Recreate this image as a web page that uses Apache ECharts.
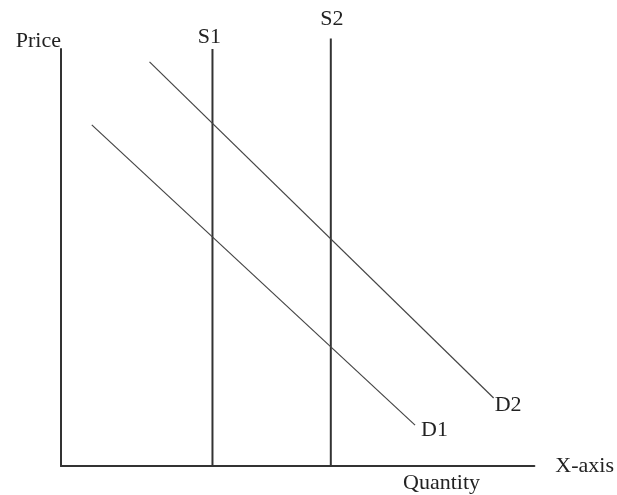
<!DOCTYPE html>
<html>
<head>
<meta charset="utf-8">
<script src="https://cdn.jsdelivr.net/npm/echarts@6/dist/echarts.min.js"></script>
<style>
  html, body { margin: 0; padding: 0; background: #fff; }
</style>
</head>
<body>
<div id="main" style="width: 617px; height: 495px"></div>
<script>
// supply (vertical) and demand lines, [quantity, price]
const s1 = [[32, 0], [32, 100]];
const s2 = [[57, 0], [57, 102.5]];
const d1 = [[6.5, 81.8], [74.8, 9.8]];
const d2 = [[18.7, 96.9], [91.4, 16.3]];
const names = ["S1", "S2", "D1", "D2"];

const font = "Liberation Serif";
const fs = 22;
const ink = "#222";

function tagLast(points, name, pos, align, vAlign) {
  return points.map((p, i) => {
    if (i !== points.length - 1) return p;
    return {
      value: p,
      label: {
        show: true, formatter: name, position: pos, align: align, verticalAlign: vAlign,
        color: ink, fontFamily: font, fontSize: fs
      }
    };
  });
}

const myChart = echarts.init(document.getElementById("main"));
const option = {
  animation: false,
  grid: { left: 61, right: 80, top: 49, bottom: 29 },
  xAxis: {
    type: "value", min: 0, max: 100,
    name: "X-axis", nameLocation: "end", nameGap: 21,
    nameTextStyle: { color: ink, fontFamily: font, fontSize: fs },
    axisLine: { lineStyle: { color: "#333", width: 2 } },
    axisTick: { show: false }, axisLabel: { show: false }, splitLine: { show: false }
  },
  yAxis: {
    type: "value", min: 0, max: 100,
    name: "Price", nameLocation: "end", nameGap: -3,
    nameTextStyle: { color: ink, fontFamily: font, fontSize: fs, align: "right", verticalAlign: "bottom" },
    axisLine: { lineStyle: { color: "#333", width: 2 } },
    axisTick: { show: false }, axisLabel: { show: false }, splitLine: { show: false }
  },
  graphic: [{
    type: "text", left: 403, top: 472,
    style: { text: "Quantity", fill: ink, font: fs + "px " + font }
  }],
  series: [
    {
      name: names[0], type: "line", symbol: "circle", symbolSize: 0, showSymbol: true,
      lineStyle: { color: "#333", width: 2 }, itemStyle: { color: "#333" },
      data: tagLast(s1, names[0], [-3, -1], "center", "bottom")
    },
    {
      name: names[1], type: "line", symbol: "circle", symbolSize: 0, showSymbol: true, clip: false,
      lineStyle: { color: "#333", width: 2 }, itemStyle: { color: "#333" },
      data: tagLast(s2, names[1], [1, -8], "center", "bottom")
    },
    {
      name: names[2], type: "line", symbol: "circle", symbolSize: 0, showSymbol: true,
      lineStyle: { color: "#444", width: 1.2 }, itemStyle: { color: "#444" },
      data: tagLast(d1, names[2], [6, -6], "left", "top")
    },
    {
      name: names[3], type: "line", symbol: "circle", symbolSize: 0, showSymbol: true,
      lineStyle: { color: "#444", width: 1.2 }, itemStyle: { color: "#444" },
      data: tagLast(d2, names[3], [1, -4], "left", "top")
    }
  ]
};
option && myChart.setOption(option);
</script>
</body>
</html>
